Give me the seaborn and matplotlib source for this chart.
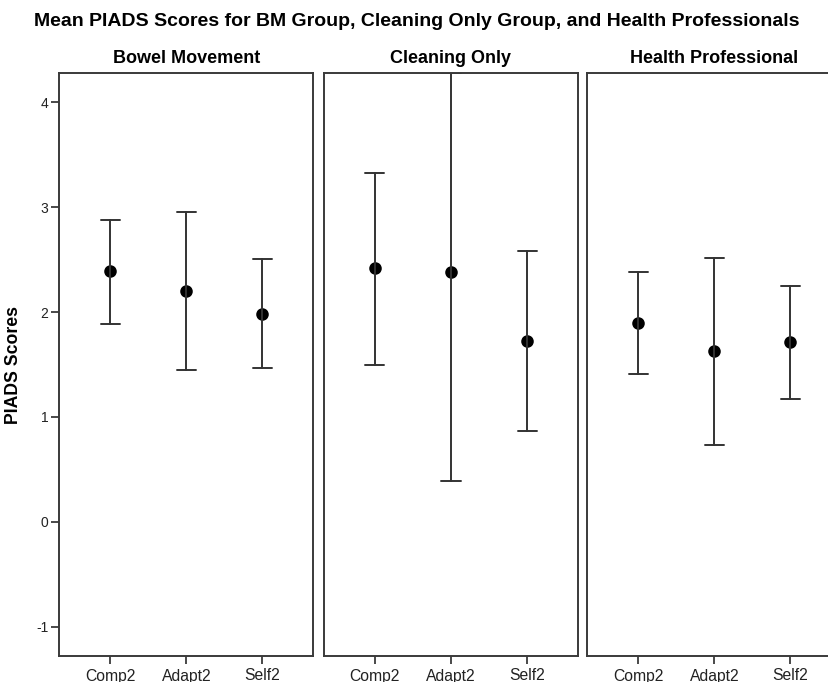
import matplotlib
matplotlib.use("Agg")
import matplotlib.pyplot as plt
import seaborn as sns
import pandas as pd

groups = ["Bowel Movement", "Cleaning Only", "Health Professional"]
measures = ["Comp2", "Adapt2", "Self2"]

# mean and interval ends
bm_mean = [2.39, 2.20, 1.98]
bm_low = [1.89, 1.45, 1.47]
bm_high = [2.88, 2.95, 2.51]

co_mean = [2.42, 2.38, 1.72]
co_low = [1.50, 0.39, 0.87]
co_high = [3.33, 4.28, 2.58]

hp_mean = [1.90, 1.63, 1.71]
hp_low = [1.41, 0.73, 1.17]
hp_high = [2.38, 2.52, 2.25]

yticks = [-1, 0, 1, 2, 3, 4]

rows = []
for g, m, lo, hi in zip(groups,
                        [bm_mean, co_mean, hp_mean],
                        [bm_low, co_low, hp_low],
                        [bm_high, co_high, hp_high]):
    for i, meas in enumerate(measures):
        # three values per cell: median = mean, min/max = interval ends
        for v in (lo[i], m[i], hi[i]):
            rows.append({"group": g, "measure": meas, "value": v})
df = pd.DataFrame(rows)

sns.set_style("ticks")
plt.rcParams["font.family"] = ["Liberation Sans", "DejaVu Sans"]

fig, axes = plt.subplots(1, 3, figsize=(8.29, 6.82), dpi=100, sharey=True)

W, H = 829, 682
lefts = [59.3, 324, 587.3]
pw = 254
top, bottom = 73, 656
frame_col = "#3a3a3a"

for ax, g, x0 in zip(axes, groups, lefts):
    ax.set_position([x0 / W, (H - bottom) / H, pw / W, (bottom - top) / H])
    sub = df[df["group"] == g]
    sns.pointplot(data=sub, x="measure", y="value", order=measures,
                  estimator="median", errorbar=("pi", 100), capsize=0.25,
                  linestyle="none", color="black", markersize=7,
                  err_kws={"color": "#333333", "linewidth": 1.4}, ax=ax)
    ax.set_xlim(-0.667, 2.667)
    ax.set_ylim(-1.28, 4.28)
    ax.set_xlabel("")
    ax.set_title(g, fontsize=13, fontweight="bold", pad=7, color="black")
    for s in ax.spines.values():
        s.set_visible(True)
        s.set_color(frame_col)
        s.set_linewidth(1.4)
    ax.tick_params(axis="x", length=6, width=1.3, color=frame_col,
                   labelsize=11.3, labelcolor="#222222", pad=3)

axes[0].set_yticks(yticks)
axes[0].set_yticklabels([str(t) for t in yticks])
axes[0].tick_params(axis="y", length=6, width=1.3, color=frame_col,
                    labelsize=10, labelcolor="#222222", pad=2)
axes[0].set_ylabel("PIADS Scores", fontsize=12.7, fontweight="bold",
                   labelpad=10, color="black")
for ax in axes[1:]:
    ax.tick_params(axis="y", left=False, labelleft=False)
    ax.set_ylabel("")

fig.text(0.503, 1 - 21 / H,
         "Mean PIADS Scores for BM Group, Cleaning Only Group, and Health Professionals",
         ha="center", va="center", fontsize=14, fontweight="bold", color="black")

fig.savefig("out.png", dpi=100)
